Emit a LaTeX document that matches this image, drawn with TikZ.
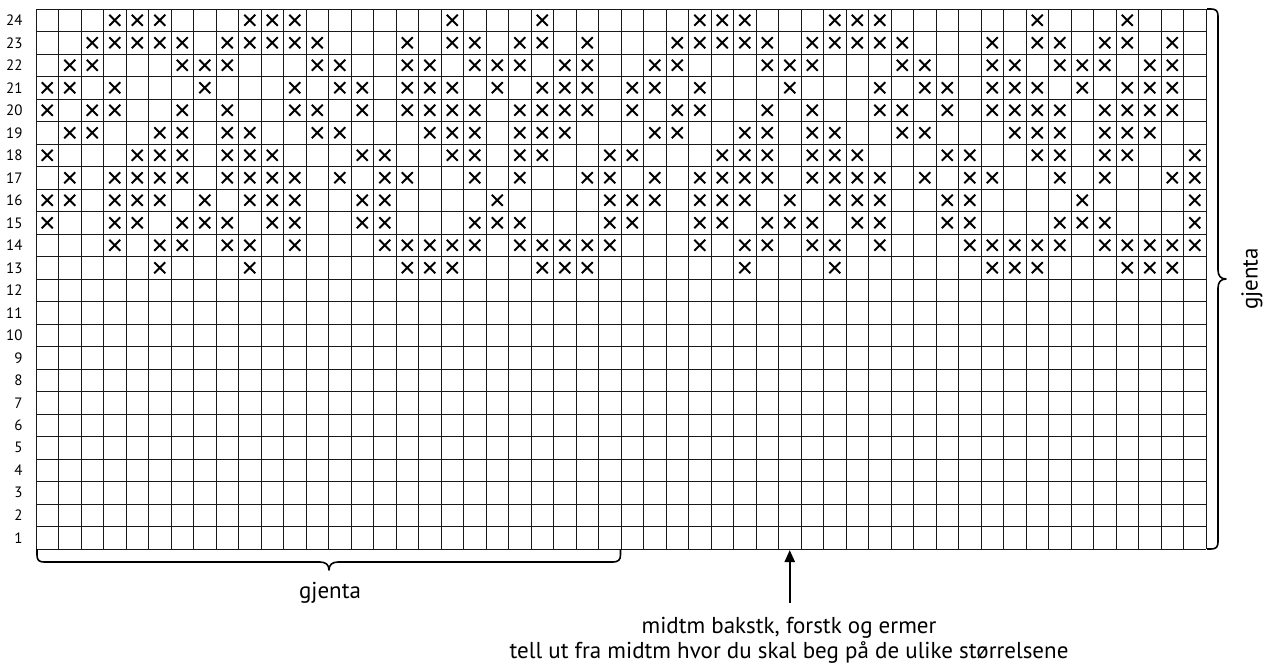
\documentclass[tikz,border=0pt]{standalone}
\usepackage{fontspec}
\setmainfont{PT Sans}
\usetikzlibrary{arrows.meta}
\begin{document}
\begin{tikzpicture}[x=0.5pt,y=-0.5pt,
  gridline/.style={line width=0.5pt, draw=black!90},
  xmark/.style={line width=1pt},
  bracestyle/.style={line width=0.8pt, line join=round},
  arrowstyle/.style={line width=1.2pt, -{Triangle[length=6pt,width=5pt]}},
  lbl/.style={font=\fontsize{7.5}{9}\selectfont, anchor=east, inner sep=0pt},
  txt/.style={font=\fontsize{11.5}{12}\selectfont, inner sep=0pt}]
\useasboundingbox (0,0) rectangle (1271,664);
% grid lines
\foreach \i in {0,...,52} \draw[gridline] ({36+22.5*\i},9) -- ({36+22.5*\i},549);
\foreach \j in {0,...,24} \draw[gridline] (36,{9+22.5*\j}) -- (1206,{9+22.5*\j});
% row labels
\foreach \r in {1,...,24} \node[lbl] (row\r) at (23,{549-22.5*(\r-0.5)}) {\r};
% crosses (pattern repeat of 26 stitches)
\foreach \r/\cols in {
  24/{4,5,6,10,11,12,19,23},
  23/{3,4,5,6,7,9,10,11,12,13,17,19,20,22,23,25},
  22/{2,3,7,8,9,13,14,17,18,20,21,22,24,25},
  21/{1,2,4,8,12,14,15,17,18,19,21,23,24,25},
  20/{1,3,4,7,9,12,13,15,17,18,19,20,22,23,24,25},
  19/{2,3,6,7,9,10,13,14,18,19,20,22,23,24},
  18/{1,5,6,7,9,10,11,15,16,19,20,22,23,26},
  17/{2,4,5,6,7,9,10,11,12,14,16,17,20,22,25,26},
  16/{1,2,4,5,6,8,10,11,12,15,16,21,26},
  15/{1,4,5,7,8,9,11,12,15,16,20,21,22,26},
  14/{4,6,7,9,10,12,16,17,18,19,20,22,23,24,25,26},
  13/{6,10,17,18,19,23,24,25}}{
  \foreach \c in \cols {
    \foreach \k in {0,26} {
      \draw[xmark, shift={({36+22.5*(\c+\k-0.5)},{549-22.5*(\r-0.5)})}]
        (-5.5,-5.5) -- (5.5,5.5) (-5.5,5.5) -- (5.5,-5.5);
    }
  }
}
% bottom brace
\draw[bracestyle] (37,549) -- (37,555) .. controls (37,560) and (39,562) .. (44,562)
  -- (320,562) .. controls (326,562) and (329,565) .. (329,570)
  .. controls (329,565) and (332,562) .. (338,562)
  -- (613,562) .. controls (618,562) and (620.5,560) .. (620.5,555) -- (620.5,549);
% right brace
\draw[bracestyle] (1207,9) -- (1211,9) .. controls (1216,9) and (1218,11) .. (1218,16)
  -- (1218,270) .. controls (1218,276) and (1221,279) .. (1226,279)
  .. controls (1221,279) and (1218,282) .. (1218,288)
  -- (1218,542) .. controls (1218,547) and (1216,549) .. (1211,549) -- (1207,549);
% labels
\node[txt] (gjbottom) at (330,593) {gjenta};
\node[txt, rotate=90] (gjright) at (1252,279) {gjenta};
\node[txt] (mid1) at (789,628) {midtm bakstk, forstk og ermer};
\node[txt] (mid2) at (789,652) {tell ut fra midtm hvor du skal beg på de ulike størrelsene};
% arrow
\coordinate (tail) at (789.75,603);
\coordinate (tip) at (789.75,550);
\draw[arrowstyle] (tail) -- (tip);
\end{tikzpicture}
\end{document}
